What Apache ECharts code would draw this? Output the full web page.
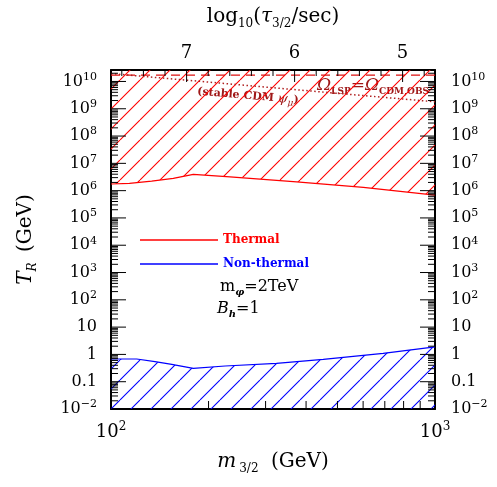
<!DOCTYPE html>
<html>
<head>
<meta charset="utf-8">
<script src="https://cdn.jsdelivr.net/npm/echarts@6/dist/echarts.min.js"></script>
<style>
  html, body { margin: 0; padding: 0; background: #fff; }
  #chart { width: 497px; height: 487px; }
</style>
</head>
<body>
<div id="chart"></div>
<script>
// upper bounds on T_R (GeV) vs gravitino mass m_3/2 (GeV)
const thermalMass = [100, 114, 133.5, 155.7, 179.5, 233, 374, 601, 1000];
const thermalTR = [1.75e6, 1.85e6, 2.25e6, 2.8e6, 3.95e6, 3.2e6, 2.1e6, 1.32e6, 6.9e5];
const nonThermalMass = [100, 120, 136.7, 154, 179.5, 225, 324, 452, 692, 1000];
const nonThermalTR = [0.68, 0.68, 0.54, 0.43, 0.31, 0.376, 0.47, 0.66, 1.1, 1.9];
// Omega_LSP = Omega_CDM,obs (dashed) and stable CDM psi_mu (dotted)
const omegaMass = [100, 1000];
const omegaTR = [1.7e10, 1.7e10];
const stableMass = [100, 316, 1000];
const stableTR = [1.95e10, 5.9e9, 1.8e9];

// tick labels (exponents of 10)
const yLabelExp = [-2, -1, 0, 1, 2, 3, 4, 5, 6, 7, 8, 9, 10];
const xLabelExp = [2, 3];
const tauLabels = [5, 6, 7];
const tauAt100 = 7.7; // log10(tau/sec) at m = 100 GeV, tau ~ m^-3

const X_MIN = 2, X_MAX = 3;
const Y_MIN = -2, Y_MAX = 10.42;
const GRID = { left: 111, right: 62, top: 70, bottom: 78 };
const serif = 'DejaVu Serif';

function toLog(ms, ts) {
  return ms.map((m, i) => [Math.log10(m), Math.log10(ts[i])]);
}

// tick marks as short segments in data space, drawn by a line series
const plotW = 497 - GRID.left - GRID.right;
const plotH = 487 - GRID.top - GRID.bottom;
const xPerPx = (X_MAX - X_MIN) / plotW;
const yPerPx = (Y_MAX - Y_MIN) / plotH;
const tickSegs = [];
function seg(a, b) {
  tickSegs.push(a, b, '-');
}
for (let n = -2; n <= 10; n++) {
  for (let k = 1; k <= 9; k++) {
    const v = n + Math.log10(k);
    if (v >= Y_MAX) continue;
    const len = (k === 1 ? 15 : 7) * xPerPx;
    seg([X_MIN, v], [X_MIN + len, v]);
    seg([X_MAX - len, v], [X_MAX, v]);
  }
}
[2, 3, 4, 5, 6, 7, 8, 9].forEach(k => {
  const x = 2 + Math.log10(k);
  seg([x, Y_MIN], [x, Y_MIN + 8 * yPerPx]);
});
for (let i = 24; i <= 38; i++) {
  const x = 2 + (tauAt100 - i / 5) / 3;
  const len = (i % 5 === 0 ? 12 : 6) * yPerPx;
  seg([x, Y_MAX], [x, Y_MAX - len]);
}

function hatch(color) {
  const s = 20;
  const c = document.createElement('canvas');
  c.width = s; c.height = s;
  const g = c.getContext('2d');
  g.strokeStyle = color;
  g.lineWidth = 1.1;
  g.beginPath();
  for (const o of [-s, 0, s]) {
    g.moveTo(o, s);
    g.lineTo(o + s, 0);
  }
  g.stroke();
  return c;
}

function powLabel(v) {
  const n = Math.round(v);
  if (n === 0) return '{b|1}';
  if (n === 1) return '{b|10}';
  if (n === -1) return '{b|0.1}';
  return '{b|10}{p|' + (n < 0 ? '\u2212' + (-n) : n) + '}';
}

const powRich = (size) => ({
  b: { fontFamily: serif, fontSize: size, color: '#000', lineHeight: size + 4 },
  p: { fontFamily: serif, fontSize: Math.round(size * 0.68), color: '#000', verticalAlign: 'top', lineHeight: 10 }
});

const frame = { show: true, onZero: false, lineStyle: { color: '#000', width: 2 } };

let chartInst = echarts.init(document.getElementById('chart'));

const labels = [
  {
    type: 'text', x: 220, y: 287,
    style: {
      text: '{r|m}{s|\u03c6}{r|=2TeV}',
      align: 'left', verticalAlign: 'middle',
      rich: {
        r: { fontFamily: serif, fontSize: 16, lineHeight: 20, fill: '#000' },
        s: { fontFamily: serif, fontStyle: 'italic', fontWeight: 'bold', fontSize: 10, verticalAlign: 'bottom', lineHeight: 10, fill: '#000' }
      }
    }
  },
  {
    type: 'text', x: 217, y: 309,
    style: {
      text: '{i|B}{s|h}{r|=1}',
      align: 'left', verticalAlign: 'middle',
      rich: {
        i: { fontFamily: serif, fontStyle: 'italic', fontSize: 16, lineHeight: 20, fill: '#000' },
        r: { fontFamily: serif, fontSize: 16, lineHeight: 20, fill: '#000' },
        s: { fontFamily: serif, fontStyle: 'italic', fontWeight: 'bold', fontSize: 10, verticalAlign: 'bottom', lineHeight: 10, fill: '#000' }
      }
    }
  },
  {
    type: 'text', x: 248, y: 96, rotation: -0.085,
    style: {
      text: '{t|(stable CDM }{g|\u03c8}{s|\u03bc}{t|)}',
      align: 'center', verticalAlign: 'middle',
      rich: {
        t: { fontFamily: serif, fontWeight: 'bold', fontSize: 11, lineHeight: 16, fill: '#a01818' },
        g: { fontFamily: serif, fontStyle: 'italic', fontSize: 13, lineHeight: 16, fill: '#a01818' },
        s: { fontFamily: serif, fontStyle: 'italic', fontSize: 9, verticalAlign: 'bottom', lineHeight: 8, fill: '#a01818' }
      }
    }
  },
  {
    type: 'text', x: 317, y: 86,
    style: {
      text: '{o|\u03a9}{s|LSP}{o|=\u03a9}{s|CDM,OBS}',
      align: 'left', verticalAlign: 'middle',
      rich: {
        o: { fontFamily: serif, fontStyle: 'italic', fontSize: 17, lineHeight: 20, fill: '#a01818' },
        s: { fontFamily: serif, fontWeight: 'bold', fontSize: 9, verticalAlign: 'bottom', lineHeight: 8, fill: '#a01818' }
      }
    }
  }
];

let option = {
  animation: false,
  backgroundColor: '#fff',
  grid: GRID,
  legend: {
    orient: 'vertical',
    left: 135,
    top: 229,
    icon: 'rect',
    itemWidth: 78,
    itemHeight: 1.3,
    itemGap: 12,
    textStyle: { fontFamily: serif, fontWeight: 'bold', fontSize: 12 },
    data: [
      { name: 'Thermal', textStyle: { color: '#ff0000' } },
      { name: 'Non-thermal', textStyle: { color: '#0000ff' } }
    ]
  },
  xAxis: [
    {
      type: 'value', position: 'bottom', min: X_MIN, max: X_MAX,
      axisLine: frame,
      splitLine: { show: false },
      axisTick: { show: false },
      axisLabel: { customValues: xLabelExp, margin: 12, formatter: powLabel, rich: powRich(18) },
      name: '{i|m}{s|3/2}{r| (GeV)}',
      nameLocation: 'middle',
      nameGap: 40,
      nameTextStyle: {
        rich: {
          i: { fontFamily: serif, fontStyle: 'italic', fontSize: 20, lineHeight: 26, color: '#000' },
          s: { fontFamily: serif, fontSize: 12, verticalAlign: 'bottom', lineHeight: 12, padding: [0, 6, 0, 3], color: '#000' },
          r: { fontFamily: serif, fontSize: 20, lineHeight: 26, color: '#000' }
        }
      }
    },
    {
      type: 'value', position: 'top', min: tauAt100 - 3, max: tauAt100, inverse: true,
      axisLine: frame,
      splitLine: { show: false },
      axisTick: { show: false },
      axisLabel: { customValues: tauLabels, margin: 8, fontFamily: serif, fontSize: 18, color: '#000' },
      name: '{r|log}{s|10}{r|(}{i|\u03c4}{s|3/2}{r|/sec)}',
      nameLocation: 'middle',
      nameGap: 40,
      nameTextStyle: {
        rich: {
          r: { fontFamily: serif, fontSize: 20, lineHeight: 26, color: '#000' },
          i: { fontFamily: serif, fontStyle: 'italic', fontSize: 20, lineHeight: 26, color: '#000' },
          s: { fontFamily: serif, fontSize: 12, verticalAlign: 'bottom', lineHeight: 12, color: '#000' }
        }
      }
    }
  ],
  yAxis: [
    {
      type: 'value', position: 'left', min: Y_MIN, max: Y_MAX,
      axisLine: frame,
      splitLine: { show: false },
      axisTick: { show: false },
      axisLabel: { customValues: yLabelExp, margin: 14, formatter: powLabel, rich: powRich(16) },
      name: '{i|T}{s|R}{r| (GeV)}',
      nameLocation: 'middle',
      nameRotate: 90,
      nameGap: 72,
      nameTextStyle: {
        rich: {
          i: { fontFamily: serif, fontStyle: 'italic', fontSize: 20, lineHeight: 26, color: '#000' },
          s: { fontFamily: serif, fontStyle: 'italic', fontSize: 12, verticalAlign: 'bottom', lineHeight: 12, padding: [0, 4, 0, 0], color: '#000' },
          r: { fontFamily: serif, fontSize: 20, lineHeight: 26, color: '#000' }
        }
      }
    },
    {
      type: 'value', position: 'right', min: Y_MIN, max: Y_MAX,
      axisLine: frame,
      splitLine: { show: false },
      axisTick: { show: false },
      axisLabel: { customValues: yLabelExp, margin: 16, formatter: powLabel, rich: powRich(16) }
    }
  ],
  series: [
    {
      type: 'line', name: 'thermal-area', data: toLog(thermalMass, thermalTR),
      symbol: 'none', silent: true, z: 1,
      lineStyle: { width: 0, opacity: 0 },
      areaStyle: { origin: 'end', opacity: 1, color: { image: hatch('#ff0000'), repeat: 'repeat' } }
    },
    {
      type: 'line', name: 'nonthermal-area', data: toLog(nonThermalMass, nonThermalTR),
      symbol: 'none', silent: true, z: 1,
      lineStyle: { width: 0, opacity: 0 },
      areaStyle: { origin: 'start', opacity: 1, color: { image: hatch('#0000ff'), repeat: 'repeat' } }
    },
    {
      type: 'line', name: 'Thermal', data: toLog(thermalMass, thermalTR),
      symbol: 'none', z: 3,
      itemStyle: { color: '#ff0000' },
      lineStyle: { color: '#ff0000', width: 1.2 }
    },
    {
      type: 'line', name: 'Non-thermal', data: toLog(nonThermalMass, nonThermalTR),
      symbol: 'none', z: 3,
      itemStyle: { color: '#0000ff' },
      lineStyle: { color: '#0000ff', width: 1.2 }
    },
    {
      type: 'line', name: 'omega', data: toLog(omegaMass, omegaTR),
      symbol: 'none', z: 3,
      lineStyle: { color: '#dd1111', width: 1.3, type: [9, 6] }
    },
    {
      type: 'line', name: 'stable', data: toLog(stableMass, stableTR),
      symbol: 'none', z: 3,
      lineStyle: { color: '#b02020', width: 1.5, type: [1.5, 2.5] }
    },
    {
      type: 'line', name: 'ticks', data: tickSegs,
      symbol: 'none', silent: true, z: 6,
      connectNulls: false,
      lineStyle: { color: '#000', width: 1 }
    }
  ],
  graphic: labels
};

chartInst.setOption(option);
</script>
</body>
</html>
